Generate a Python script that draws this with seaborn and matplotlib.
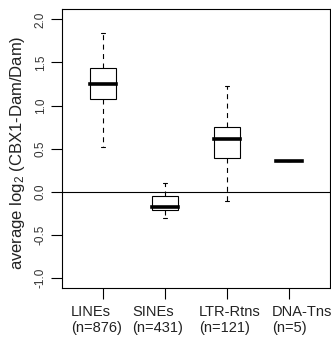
import seaborn as sns
import matplotlib.pyplot as plt
import matplotlib.transforms as mtransforms
from matplotlib.ticker import FormatStrFormatter
import pandas as pd

# categories and sizes
labels = ["LINEs", "SINEs", "LTR-Rtns", "DNA-Tns"]
counts = [876, 431, 121, 5]

# five-number summaries (min, q1, median, q3, max)
lines_vals = [0.52, 1.07, 1.25, 1.435, 1.845]
sines_vals = [-0.31, -0.21, -0.175, -0.055, 0.095]
ltr_vals = [-0.11, 0.39, 0.615, 0.755, 1.23]
dna_vals = [0.355, 0.355, 0.355, 0.355, 0.355]

yticks = [-1.0, -0.5, 0.0, 0.5, 1.0, 1.5, 2.0]

rows = []
for lab, vals in zip(labels, [lines_vals, sines_vals, ltr_vals, dna_vals]):
    for v in vals:
        rows.append({"group": lab, "value": v})
df = pd.DataFrame(rows)

sns.set_style("ticks")
plt.rcParams["font.family"] = ["Liberation Sans", "DejaVu Sans"]
plt.rcParams["mathtext.fontset"] = "custom"
plt.rcParams["mathtext.rm"] = "Liberation Sans"
plt.rcParams["mathtext.default"] = "regular"
plt.rcParams["axes.unicode_minus"] = False

fig = plt.figure(figsize=(3.31, 3.38), dpi=100)
ax = fig.add_axes([0.187, 0.148, 0.81, 0.825])

ax.axhline(0, color="black", lw=0.8, zorder=0)

sns.boxplot(data=df, x="group", y="value", order=labels, ax=ax,
            width=0.41, whis=(0, 100), color="white", saturation=1,
            linecolor="black", linewidth=0.8, capwidths=0.07,
            medianprops={"linewidth": 2.6, "solid_capstyle": "projecting"},
            whiskerprops={"linestyle": (0, (4.5, 4))})

ax.set_xlim(-0.66, 3.66)
ax.set_ylim(-1.12, 2.12)
ax.set_yticks(yticks)
ax.yaxis.set_major_formatter(FormatStrFormatter("%.1f"))
ax.set_xticks(range(len(labels)))
ax.set_xticklabels([])

# category labels, left-aligned blocks nudged as in the original figure
shifts = [-32, -33, -28, -17]  # px from tick to left edge of block
base = mtransforms.blended_transform_factory(ax.transData, ax.transAxes)
for i, (lab, n, dx) in enumerate(zip(labels, counts, shifts)):
    tr = base + mtransforms.ScaledTranslation(dx / 100, -17 / 100, fig.dpi_scale_trans)
    ax.text(i, 0, f"{lab}\n(n={n})", transform=tr, ha="left", va="top",
            multialignment="left", linespacing=1.15, fontsize=10.5,
            color="#222222")

ax.tick_params(axis="x", length=8, width=0.8, colors="black")
ax.tick_params(axis="y", length=8, width=0.8, pad=3, labelsize=8.5,
               colors="black", labelcolor="#333333")
for t in ax.get_yticklabels():
    t.set_rotation(90)
    t.set_va("center")

for s in ax.spines.values():
    s.set_visible(True)
    s.set_color("black")
    s.set_linewidth(0.8)

ax.set_xlabel("")
ax.set_ylabel("average log$_2$ (CBX1-Dam/Dam)", fontsize=12,
              color="#222222")
ax.yaxis.set_label_coords(-0.13, 0.484)

fig.savefig("out.png", dpi=100)
